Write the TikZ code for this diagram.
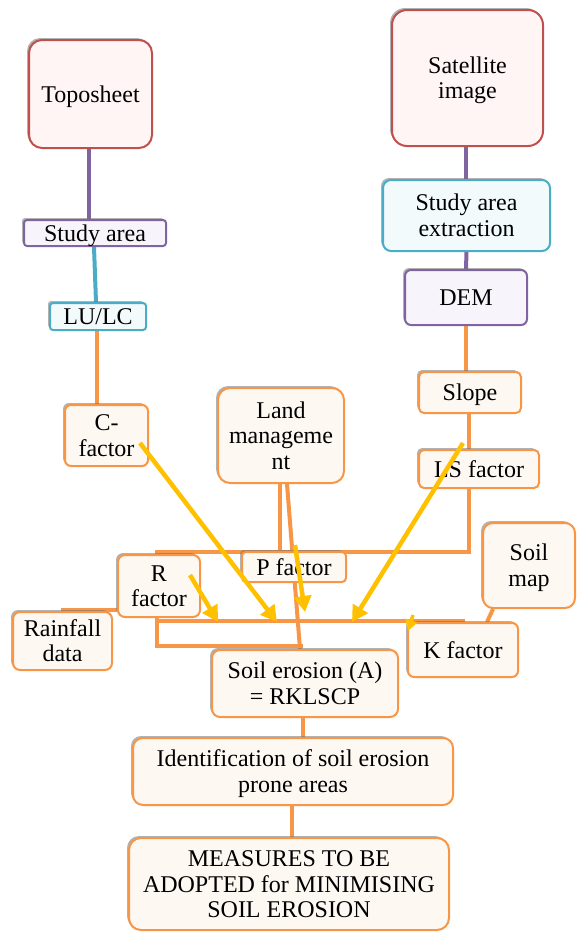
\documentclass[tikz,border=0pt]{standalone}
\usepackage{fontspec}
\setmainfont{Liberation Serif}
\usetikzlibrary{arrows.meta,calc,shadows}
\definecolor{cor}{HTML}{F79646}
\definecolor{cred}{HTML}{C0504D}
\definecolor{cpur}{HTML}{8064A2}
\definecolor{ccya}{HTML}{4BACC6}
\definecolor{cgold}{HTML}{FFC000}
\definecolor{forg}{HTML}{FEF8F3}
\definecolor{fred}{HTML}{FFF5F4}
\definecolor{fpur}{HTML}{F7F5FB}
\definecolor{fcya}{HTML}{F2FAFC}
\pgfdeclarelayer{bg}
\pgfsetlayers{bg,main}
\newcommand\boxtxt[1]{%
  \setbox0\hbox{\begin{tabular}{@{}c@{}}#1\end{tabular}}%
  \dimen0=\ht0 \dimen2=\dp0
  \setbox2\hbox{\lower3pt\box0}%
  \ht2=\dimen0 \dp2=\dimen2 \box2}
\begin{document}
\begin{tikzpicture}[x=1pt,y=-1pt,
  box/.style={rectangle, rounded corners=#1, draw, line width=2pt, inner sep=0pt,
    font=\fontsize{24}{25.5}\selectfont,
    drop shadow={shadow xshift=-2pt, shadow yshift=2pt, opacity=0.55, fill=black!55}},
  obox/.style={box=#1, draw=cor, fill=forg},
  rbox/.style={box=#1, draw=cred, fill=fred},
  pbox/.style={box=#1, draw=cpur, fill=fpur},
  cbox/.style={box=#1, draw=ccya, fill=fcya},
  conn/.style={draw=cor, line width=4pt},
  pline/.style={draw=cpur, line width=4pt},
  cline/.style={draw=ccya, line width=4pt},
  yarr/.style={draw=cgold, line width=4.5pt, -{Triangle[length=16pt,width=17pt]}},
  ysmall/.style={draw=cgold, line width=3.5pt, -{Triangle[length=11pt,width=12pt]}}]
\useasboundingbox (0,0) rectangle (576,932);

% nodes
\node[rbox=13pt, minimum width=123pt, minimum height=108pt] (topo) at (90.5,94) {\boxtxt{Toposheet}};
\node[rbox=15pt, minimum width=151pt, minimum height=136pt] (sat) at (467.5,78) {\boxtxt{Satellite\\image}};
\node[pbox=3pt, minimum width=142pt, minimum height=26pt] (sa) at (95,233) {\boxtxt{Study area}};
\node[cbox=3pt, minimum width=96pt, minimum height=27pt] (lulc) at (98,316.5) {\boxtxt{LU/LC}};
\node[obox=6pt, minimum width=83pt, minimum height=61pt] (cf) at (106.5,435.5) {\boxtxt{C-\\factor}};
\node[cbox=8pt, minimum width=167pt, minimum height=71pt] (sae) at (466.5,215.5) {\boxtxt{Study area\\extraction}};
\node[pbox=6pt, minimum width=122pt, minimum height=55pt] (dem) at (466,297.5) {\boxtxt{DEM}};
\node[obox=5pt, minimum width=102pt, minimum height=41pt] (slope) at (470,392.5) {\boxtxt{Slope}};
\node[obox=5pt, minimum width=120pt, minimum height=38pt] (ls) at (479,469) {\boxtxt{LS factor}};
\node[obox=12pt, minimum width=126pt, minimum height=95pt] (land) at (281,435.5) {\boxtxt{Land\\manageme\\nt}};
\node[obox=4pt, minimum width=104pt, minimum height=30pt] (pf) at (294,567) {\boxtxt{P factor}};
\node[obox=7pt, minimum width=82pt, minimum height=62pt] (rf) at (159,586) {\boxtxt{R\\factor}};
\node[obox=7pt, minimum width=99pt, minimum height=58pt] (rain) at (62.5,641) {\boxtxt{Rainfall\\data}};
\node[obox=10pt, minimum width=92pt, minimum height=85pt] (soil) at (529,565.5) {\boxtxt{Soil\\map}};
\node[obox=6pt, minimum width=110pt, minimum height=54pt] (kf) at (463,650) {\boxtxt{K factor}};
\node[obox=8pt, minimum width=186pt, minimum height=67pt] (se) at (305,683.5) {\boxtxt{Soil erosion (A)\\= RKLSCP}};
\node[obox=10pt, minimum width=320pt, minimum height=67pt] (id) at (293,771.5) {\boxtxt{Identification of soil erosion\\prone areas}};
\node[obox=12pt, minimum width=320pt, minimum height=92pt] (me) at (289,884) {\boxtxt{MEASURES TO BE\\ADOPTED for MINIMISING\\SOIL EROSION}};

% connectors behind the boxes
\begin{pgfonlayer}{bg}
\draw[pline] ($(topo.south)+(-1.5,0)$) -- ($(sa.north)+(-6,0)$);
\draw[cline] ($(sa.south)+(-1,0)$) -- ($(lulc.north)+(-2,0)$);
\draw[conn] ($(lulc.south)+(-1,0)$) -- ($(cf.north)+(-9.5,0)$);
\draw[pline] ($(sat.south)+(-1.5,0)$) -- ($(sae.north)+(-0.5,0)$);
\draw[pline] (sae.south) -- (dem.north);
\draw[conn] (dem.south) -- (dem.south |- slope.north);
\draw[conn] ($(slope.south)+(-1,0)$) -- ($(ls.north)+(-10,0)$);
\coordinate (j1) at (157,552);
\draw[conn] ($(ls.south)+(-10,0)$) |- (j1) -- ($(rf.north)+(-2,0)$);
\draw[conn] ($(land.south)+(-1,0)$) -- ++(0,69);
\draw[conn] ($(land.south)+(6,0)$) -- ($(se.north)+(-5,0)$);
\draw[conn] ($(rf.south)+(-2,0)$) |- ($(se.north)+(-2,-3)$);
\draw[conn] (kf.north) |- ($(rf.south)+(-2,3)$);
\draw[conn] (rain.north) |- ($(rf.west)+(0,24)$);
\draw[conn] ($(soil.south)+(-36,0)$) -- ($(kf.north)+(24,0)$);
\draw[conn] ($(se.south)+(-2,0)$) -- ($(id.north)+(10,0)$);
\draw[conn] ($(id.south)+(-1,0)$) -- ($(me.north)+(3,0)$);
\end{pgfonlayer}

% yellow arrows on top
\coordinate (a1s) at (140,443); \coordinate (a1e) at (277,622);
\coordinate (a2s) at (190,575); \coordinate (a2e) at (218,622);
\coordinate (a3s) at (295,545); \coordinate (a3e) at (305,612);
\coordinate (a4s) at (463,443); \coordinate (a4e) at (352,622);
\coordinate (a5s) at (413,615); \coordinate (a5e) at (408,631);
\draw[yarr] (a1s) -- (a1e);
\draw[yarr] (a2s) -- (a2e);
\draw[yarr] (a3s) -- (a3e);
\draw[yarr] (a4s) -- (a4e);
\draw[ysmall] (a5s) -- (a5e);
\end{tikzpicture}
\end{document}
